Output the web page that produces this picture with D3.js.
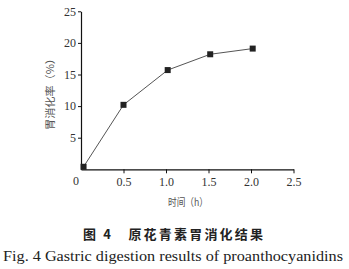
<!DOCTYPE html>
<html><head><meta charset="utf-8">
<script src="https://cdn.jsdelivr.net/npm/d3@7"></script>
<style>body{margin:0;background:#fff}svg{display:block}</style>
</head><body>
<svg id="c" width="349" height="269"></svg>
<script>
const timeH = [0.03, 0.5, 1.02, 1.52, 2.02];
const digestion = [0.4, 10.2, 15.7, 18.2, 19.1];
const xTicks = [0.5, 1.0, 1.5, 2.0, 2.5];
const yTicks = [5, 10, 15, 20, 25];
const xTitle = "时间（h）";
const yTitle = "胃消化率（%）";
const captionCN = "图 4　原花青素胃消化结果";
const captionEN = "Fig. 4 Gastric digestion results of proanthocyanidins";

const svg = d3.select("#c");
const x = d3.scaleLinear().domain([0, 2.5]).range([81, 293.5]);
const y = d3.scaleLinear().domain([0, 25]).range([169.3, 11.3]);
const serif = "Liberation Serif, DejaVu Serif, serif";
const cjk = "Noto Sans CJK SC, sans-serif";

const gx = svg.append("g").attr("transform", `translate(0,${y(0)})`)
  .call(d3.axisBottom(x).tickValues(xTicks).tickFormat(d3.format(".1f")).tickSize(4).tickSizeOuter(0));
const gy = svg.append("g").attr("transform", `translate(${x(0)},0)`)
  .call(d3.axisLeft(y).tickValues(yTicks).tickFormat(d3.format("d")).tickSize(3).tickSizeOuter(0));
[gx, gy].forEach(g => {
  g.attr("font-family", serif).attr("font-size", 12);
  g.select(".domain").attr("stroke", "#111").attr("stroke-width", 1.2);
  g.selectAll(".tick line").attr("stroke", "#111");
  g.selectAll(".tick text").attr("fill", "#333");
});
gx.selectAll(".tick text").attr("dy", "0.71em").attr("y", 8);
gy.selectAll(".tick text").attr("x", -5);
svg.append("text").attr("x", x(0) - 5).attr("y", 185).attr("text-anchor", "middle")
  .attr("fill", "#333").attr("font-family", serif).attr("font-size", 12).text("0");

const line = d3.line().x((d, i) => x(timeH[i])).y(d => y(d));
svg.append("path").datum(digestion).attr("d", line).attr("fill", "none")
  .attr("stroke", "#555").attr("stroke-width", 1);
const s = 6;
svg.selectAll("rect.pt").data(digestion).enter().append("rect").attr("class", "pt")
  .attr("x", (d, i) => x(timeH[i]) - s / 2).attr("y", d => y(d) - s / 2)
  .attr("width", s).attr("height", s).attr("fill", "#222");

svg.append("text").attr("x", 168).attr("y", 206).attr("textLength", 40).attr("lengthAdjust", "spacingAndGlyphs")
  .attr("fill", "#555").attr("font-family", cjk).attr("font-size", 10.5).text(xTitle);
svg.append("text").attr("transform", "translate(54,130) rotate(-90)").attr("textLength", 77).attr("lengthAdjust", "spacingAndGlyphs")
  .attr("fill", "#555").attr("font-family", cjk).attr("font-size", 10.5).text(yTitle);

svg.append("text").attr("x", 83).attr("y", 239).attr("textLength", 180).attr("lengthAdjust", "spacing")
  .attr("fill", "#222").attr("font-family", cjk).attr("font-size", 13).attr("font-weight", "bold")
  .text(captionCN);
svg.append("text").attr("x", 3).attr("y", 261).attr("textLength", 340).attr("lengthAdjust", "spacingAndGlyphs")
  .attr("fill", "#222").attr("font-family", serif).attr("font-size", 14).text(captionEN);
</script>
</body></html>
